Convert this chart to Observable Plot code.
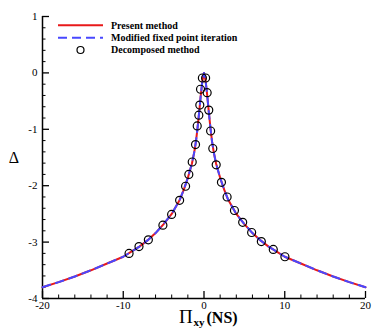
<!DOCTYPE html>
<html>
<head>
<meta charset="utf-8">
<script src="https://cdn.jsdelivr.net/npm/d3@7"></script>
<script src="https://cdn.jsdelivr.net/npm/@observablehq/plot@0.6"></script>
<style>
  html, body { margin: 0; padding: 0; background: white; }
</style>
</head>
<body>
<div id="chart"></div>
<script>
// Curve (Present method / Modified fixed point iteration)
const curveX = [-20,-18,-16,-14,-12,-10,-9,-8,-7,-6,-5,-4,-3,-2.5,-2,-1.5,-1.2,-1,-0.8,-0.6,-0.4,-0.2,0,
                0.2,0.4,0.6,0.8,1,1.2,1.5,2,2.5,3,4,5,6,7,8,9,10,12,14,16,18,20];
const curveY = [-3.80,-3.71,-3.61,-3.50,-3.38,-3.26,-3.17,-3.08,-2.97,-2.84,-2.68,-2.50,-2.25,-2.07,-1.86,-1.61,-1.40,-1.22,-0.98,-0.70,-0.40,-0.14,0.00,
                -0.14,-0.40,-0.70,-0.98,-1.22,-1.40,-1.61,-1.86,-2.07,-2.25,-2.50,-2.68,-2.84,-2.97,-3.08,-3.17,-3.26,-3.38,-3.50,-3.61,-3.71,-3.80];
// Decomposed method (circles)
const dotX = [-9.28,-8.05,-6.89,-5.09,-4.01,-3.02,-2.28,-1.88,-1.46,-1.05,-0.84,-0.64,-0.52,-0.43,-0.2,
              0.2,0.39,0.59,0.82,1.09,1.51,2.16,2.86,3.77,4.79,5.90,7.10,8.58,10.02];
const dotY = [-3.20,-3.08,-2.96,-2.70,-2.51,-2.26,-2.01,-1.80,-1.58,-1.27,-0.94,-0.75,-0.57,-0.29,-0.09,
              -0.09,-0.35,-0.66,-1.03,-1.34,-1.63,-1.94,-2.20,-2.44,-2.65,-2.83,-2.99,-3.13,-3.26];
const xMajor = [-20,-10,0,10,20];
const xMinor = [-18,-16,-14,-12,-8,-6,-4,-2,2,4,6,8,12,14,16,18];
const yMajor = [-4,-3,-2,-1,0,1];
const yMinor = [-3.8,-3.6,-3.4,-3.2,-2.8,-2.6,-2.4,-2.2,-1.8,-1.6,-1.4,-1.2,-0.8,-0.6,-0.4,-0.2,0.2,0.4,0.6,0.8];
const legendLabels = ["Present method", "Modified fixed point iteration", "Decomposed method"];

const curve = curveX.map((x, i) => ({x, y: curveY[i]}));
const dots = dotX.map((x, i) => ({x, y: dotY[i]}));

const W = 374, H = 332, mL = 42, mR = 9, mT = 16, mB = 34;
const pw = W - mL - mR, ph = H - mT - mB;

const chart = Plot.plot({
  width: W, height: H,
  marginLeft: mL, marginRight: mR, marginTop: mT, marginBottom: mB,
  style: {fontFamily: "'Liberation Serif', 'DejaVu Serif', serif", fontSize: "11px", background: "white", color: "black"},
  x: {domain: [-20, 20]},
  y: {domain: [-4, 1]},
  marks: [
    Plot.axisX(xMajor, {tickSize: 0, tickPadding: 3, tickFormat: d => String(d), label: null, fontSize: 11}),
    Plot.axisY(yMajor, {tickSize: 0, tickPadding: 5, tickFormat: d => String(d), label: null, fontSize: 11}),
    Plot.tickX(xMajor, {x: d => d, insetTop: ph - 7, stroke: "black", strokeWidth: 1.3}),
    Plot.tickX(xMinor, {x: d => d, insetTop: ph - 3.5, stroke: "black", strokeWidth: 1}),
    Plot.tickY(yMajor, {y: d => d, insetRight: pw - 7, stroke: "black", strokeWidth: 1.3}),
    Plot.tickY(yMinor, {y: d => d, insetRight: pw - 3.5, stroke: "black", strokeWidth: 1}),
    Plot.ruleX([-20], {stroke: "black", strokeWidth: 1.5}),
    Plot.ruleY([-4], {stroke: "black", strokeWidth: 1.5}),
    Plot.line(curve, {x: "x", y: "y", stroke: "#e8191a", strokeWidth: 2}),
    Plot.line(curve, {x: "x", y: "y", stroke: "#4848ff", strokeWidth: 2, strokeDasharray: "8,6"}),
    Plot.dot(dots, {x: "x", y: "y", r: 4, stroke: "black", strokeWidth: 1.2, fill: "none"}),
    Plot.text(["Δ"], {text: d => d, frameAnchor: "left", dx: -28.5, textAnchor: "middle", fontSize: 16})
  ]
});

document.getElementById("chart").appendChild(chart);

const svg = d3.select(chart);
// Legend
const lg = svg.append("g").attr("font-family", "'Liberation Serif', serif").attr("font-weight", "bold")
  .attr("font-size", 10).attr("text-anchor", "start");
lg.append("line").attr("x1", 58).attr("x2", 103).attr("y1", 25.3).attr("y2", 25.3).attr("stroke", "#e8191a").attr("stroke-width", 2);
lg.append("line").attr("x1", 58).attr("x2", 103).attr("y1", 37.7).attr("y2", 37.7).attr("stroke", "#4848ff").attr("stroke-width", 2).attr("stroke-dasharray", "9,5");
lg.append("circle").attr("cx", 80.5).attr("cy", 50).attr("r", 3.5).attr("stroke", "black").attr("stroke-width", 1.2).attr("fill", "none");
legendLabels.forEach((t, i) => {
  lg.append("text").attr("x", 111).attr("y", 28.8 + i * 12.3).text(t);
});
// X axis label: Π_xy(NS)
const xl = svg.append("g").attr("text-anchor", "start").attr("font-family", "'Liberation Serif', serif");
xl.append("text").attr("x", 179).attr("y", 322.5).attr("font-size", 19).text("Π");
xl.append("text").attr("x", 193.5).attr("y", 326).attr("font-size", 11).attr("font-weight", "bold").text("xy");
xl.append("text").attr("x", 206.5).attr("y", 322.5).attr("font-size", 16).attr("font-weight", "bold").text("(NS)");
</script>
</body>
</html>
